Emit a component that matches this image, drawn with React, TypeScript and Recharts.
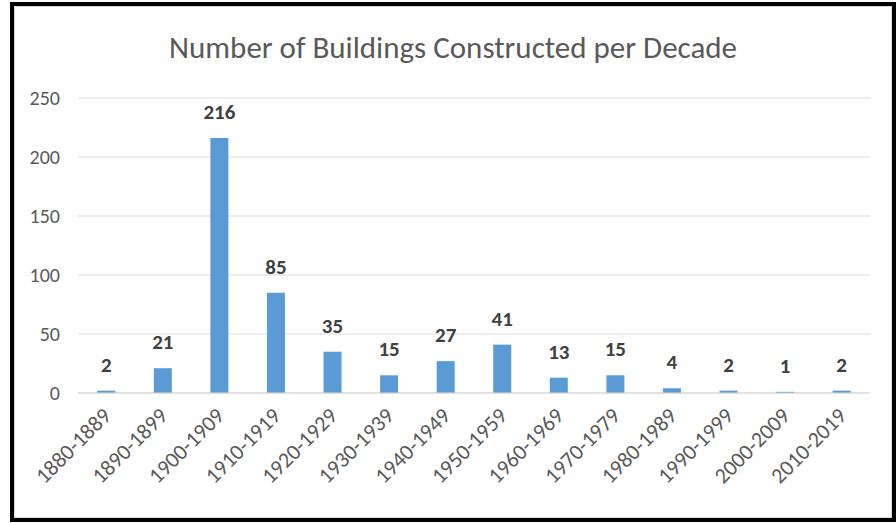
import React from 'react';
import { BarChart, Bar, XAxis, YAxis, CartesianGrid, LabelList } from 'recharts';

const decades = [
  '1880-1889', '1890-1899', '1900-1909', '1910-1919', '1920-1929', '1930-1939', '1940-1949',
  '1950-1959', '1960-1969', '1970-1979', '1980-1989', '1990-1999', '2000-2009', '2010-2019',
];
const buildings = [2, 21, 216, 85, 35, 15, 27, 41, 13, 15, 4, 2, 1, 2];
const yTicks = [0, 50, 100, 150, 200, 250];

const data = decades.map((d, i) => ({ decade: d, count: buildings[i] }));

const font = 'Carlito, "Liberation Sans", Arial, sans-serif';

const DecadeTick = (props: any) => {
  const { x, y, payload } = props;
  return (
    <g transform={`translate(${x + 6}, ${y + 16}) rotate(-45)`}>
      <text x={0} y={0} textAnchor="end" fill="#595959" fontSize={22} fontFamily={font}>
        {payload.value}
      </text>
    </g>
  );
};

const App: React.FC = () => {
  return (
    <div style={{ position: 'absolute', left: 0, top: 0, width: 896, height: 523, background: '#fff' }}>
      <div
        style={{
          position: 'absolute',
          left: 10,
          top: 2,
          width: 886,
          height: 520,
          boxSizing: 'border-box',
          border: '4px solid #000',
        }}
      >
        <div style={{ position: 'absolute', inset: 0, border: '1px solid #d9d9d9' }} />
      </div>
      <div
        style={{
          position: 'absolute',
          left: 0,
          top: 28,
          width: 906,
          textAlign: 'center',
          fontFamily: font,
          fontSize: 31,
          lineHeight: '38px',
          color: '#595959',
        }}
      >
        Number of Buildings Constructed per Decade
      </div>
      <div style={{ position: 'absolute', left: 0, top: 0 }}>
        <BarChart
          width={896}
          height={523}
          data={data}
          margin={{ top: 98, right: 26, left: 0, bottom: 0 }}
          barCategoryGap="34%"
        >
          <CartesianGrid vertical={false} stroke="#d9d9d9" />
          <XAxis
            dataKey="decade"
            interval={0}
            height={130}
            axisLine={{ stroke: '#d9d9d9' }}
            tickLine={false}
            tick={<DecadeTick />}
          />
          <YAxis
            width={78}
            domain={[0, 250]}
            ticks={yTicks}
            axisLine={false}
            tickLine={false}
            tickMargin={12}
            tick={{ fill: '#595959', fontSize: 20, fontFamily: font }}
          />
          <Bar dataKey="count" fill="#5b9bd5" isAnimationActive={false}>
            <LabelList
              dataKey="count"
              position="top"
              offset={19}
              fill="#404040"
              fontSize={21}
              fontWeight="bold"
              fontFamily={font}
            />
          </Bar>
        </BarChart>
      </div>
    </div>
  );
};

export default App;
